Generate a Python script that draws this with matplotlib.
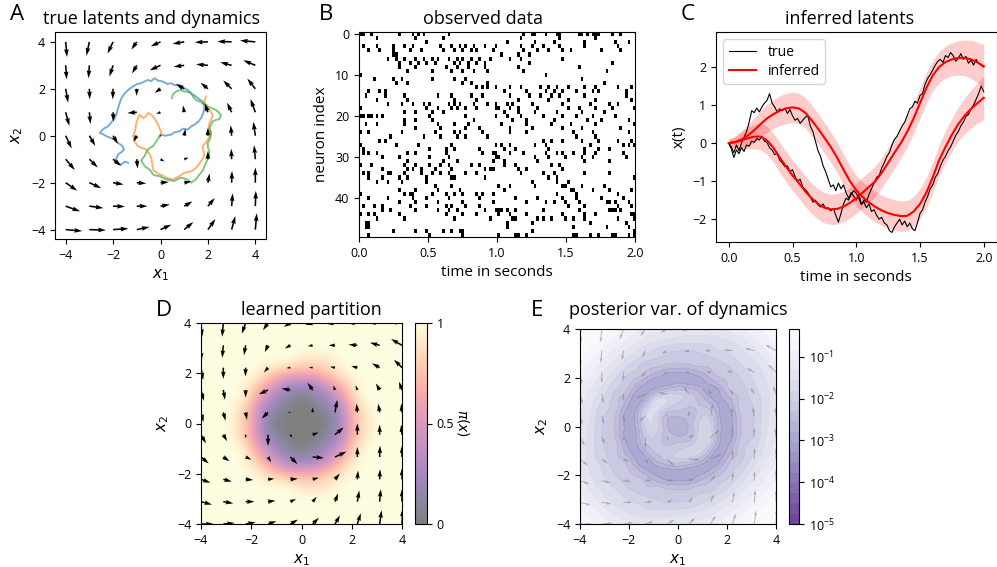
import numpy as np
import matplotlib
matplotlib.use("Agg")
import matplotlib.pyplot as plt
import matplotlib.tri as mtri
from matplotlib.colors import LogNorm
from matplotlib.ticker import LogFormatterMathtext

plt.rcParams['font.family'] = ['Open Sans', 'DejaVu Sans']
plt.rcParams['mathtext.fontset'] = 'dejavusans'
plt.rcParams['xtick.labelsize'] = 9
plt.rcParams['ytick.labelsize'] = 9
plt.rcParams['axes.labelsize'] = 11
plt.rcParams['axes.titlesize'] = 13

# ---------------- data: panel A (true dynamics, 9x9 grid, rows y=4..-4) ----------------
A_grid = [-4, -3, -2, -1, 0, 1, 2, 3, 4]
A_angle_rows = [
    [275, 258, 245, 235, 205, 190, 182, 178, 175],
    [274, 266, 252, 240, 205, 188, 175, 165, 157],
    [280, 272, 268, 268, 215, 150, 140, 135, 128],
    [285, 275, 272, 185, 200, 100, 110, 115, 110],
    [295, 300, 300, 240, 90, 80, 90, 95, 98],
    [310, 315, 320, 275, 330, 20, 90, 92, 95],
    [325, 335, 350, 355, 5, 10, 80, 88, 90],
    [340, 352, 358, 0, 10, 30, 50, 85, 88],
    [355, 358, 4, 12, 25, 40, 55, 75, 85],
]
A_len_rows = [
    [0.65, 0.6, 0.55, 0.4, 0.45, 0.5, 0.55, 0.6, 0.65],
    [0.6, 0.55, 0.5, 0.4, 0.5, 0.45, 0.5, 0.5, 0.55],
    [0.6, 0.45, 0.45, 0.3, 0.3, 0.4, 0.4, 0.5, 0.55],
    [0.6, 0.5, 0.4, 0.4, 0.2, 0.3, 0.4, 0.45, 0.6],
    [0.6, 0.5, 0.4, 0.3, 0.05, 0.3, 0.35, 0.45, 0.6],
    [0.6, 0.5, 0.45, 0.4, 0.2, 0.2, 0.35, 0.45, 0.6],
    [0.6, 0.55, 0.45, 0.4, 0.35, 0.3, 0.4, 0.5, 0.65],
    [0.65, 0.6, 0.5, 0.45, 0.4, 0.4, 0.45, 0.55, 0.65],
    [0.7, 0.7, 0.65, 0.55, 0.5, 0.5, 0.55, 0.6, 0.7],
]
blue_x = [0.03, 0.2, 0.45, 0.6, 0.8, 0.95, 1.15, 1.3, 1.43, 1.6, 1.71, 1.8, 1.85, 1.82, 1.78, 1.65, 1.5, 1.3, 1.15, 0.95,
          0.8, 0.6, 0.45, 0.3, 0.1, -0.1, -0.25, -0.4, -0.53, -0.7, -0.81, -1.0, -1.16, -1.3, -1.44, -1.55, -1.65, -1.72, -1.79, -1.85,
          -1.93, -2.05, -2.21, -2.4, -2.56, -2.4, -2.28, -2.1, -1.93, -1.8, -1.68, -1.6, -1.54, -1.65, -1.79, -1.85, -1.93, -1.8, -1.65, -1.5, -1.37]
blue_y = [0.05, 0.0, 0.05, 0.15, 0.19, 0.3, 0.26, 0.4, 0.47, 0.6, 0.75, 0.95, 1.18, 1.3, 1.46, 1.55, 1.67, 1.8, 1.95, 2.05,
          2.17, 2.15, 2.24, 2.2, 2.31, 2.35, 2.45, 2.32, 2.38, 2.3, 2.24, 2.2, 2.1, 2.0, 1.88, 1.75, 1.6, 1.4, 1.18, 0.95,
          0.75, 0.6, 0.4, 0.3, 0.12, 0.05, -0.02, -0.1, -0.16, -0.3, -0.38, -0.45, -0.59, -0.7, -0.8, -0.95, -1.08, -1.2, -1.22, -1.1, -1.15]
orange_x = [-0.04, 0.03, -0.05, -0.11, -0.18, -0.3, -0.39, -0.53, -0.6, -0.74, -0.88, -0.95, -1.02, -1.05, -1.09, -1.16, -1.05, -0.95, -0.8, -0.67,
            -0.6, -0.53, -0.45, -0.39, -0.35, -0.32, -0.2, -0.04, 0.1, 0.24, 0.4, 0.52, 0.65, 0.8, 0.9, 1.01, 1.15, 1.29, 1.4, 1.5,
            1.6, 1.71, 1.8, 1.85, 1.8, 1.78, 1.9, 1.99, 2.1, 2.13, 2.05, 2.06, 2.15, 2.2, 2.1, 1.99, 1.9, 1.85, 1.88, 1.92]
orange_y = [-0.02, 0.15, 0.33, 0.5, 0.61, 0.8, 0.89, 0.97, 0.85, 0.75, 0.89, 0.75, 0.55, 0.33, 0.15, -0.02, -0.3, -0.45, -0.52, -0.55,
            -0.59, -0.7, -0.8, -0.95, -1.15, -1.44, -1.55, -1.65, -1.7, -1.79, -1.83, -1.86, -1.8, -1.72, -1.65, -1.58, -1.55, -1.51, -1.45, -1.37,
            -1.25, -1.08, -0.95, -0.8, -0.6, -0.45, -0.3, -0.17, 0.0, 0.19, 0.35, 0.54, 0.7, 0.89, 1.05, 1.18, 1.3, 1.46, 1.58, 1.67]
green_x = [-0.04, -0.1, -0.18, -0.25, -0.32, -0.45, -0.53, -0.6, -0.67, -0.75, -0.81, -0.72, -0.67, -0.55, -0.46, -0.38, -0.32, -0.2, -0.04, 0.1,
           0.24, 0.4, 0.59, 0.72, 0.87, 1.0, 1.15, 1.22, 1.29, 1.4, 1.5, 1.6, 1.71, 1.8, 1.85, 1.92, 1.99, 2.05, 2.06, 2.0,
           1.99, 2.08, 2.13, 2.1, 2.06, 2.15, 2.2, 2.35, 2.48, 2.55, 2.45, 2.34, 2.13, 2.0, 1.92, 1.75, 1.64, 1.5, 1.43, 1.35,
           1.29, 1.2, 1.08, 0.95, 0.87, 0.75, 0.66, 0.55, 0.52, 0.48]
green_y = [-0.02, -0.12, -0.24, -0.35, -0.45, -0.52, -0.59, -0.72, -0.87, -0.95, -1.08, -1.2, -1.3, -1.38, -1.44, -1.55, -1.65, -1.7, -1.72, -1.8,
           -1.86, -1.9, -1.93, -1.85, -1.79, -1.82, -1.86, -1.95, -2.0, -1.92, -1.86, -1.7, -1.58, -1.45, -1.3, -1.15, -1.01, -0.85, -0.66, -0.5,
           -0.31, -0.15, 0.05, 0.2, 0.33, 0.5, 0.61, 0.68, 0.7, 0.89, 1.0, 1.1, 1.18, 1.25, 1.32, 1.4, 1.46, 1.52, 1.6, 1.7,
           1.81, 1.85, 1.88, 1.9, 1.95, 1.92, 1.88, 1.8, 1.74, 1.6]

# ---------------- data: panel B (spike bins, 100 bins of 20 ms) ----------------
n_bins = 100
spike_bins = [
    [0, 1, 4, 14, 19, 21, 23, 32, 59, 62, 63, 67, 71, 72, 79, 80, 82, 84, 85, 86, 91, 94],
    [6, 20, 30, 58, 72, 85],
    [24, 53, 63, 70, 81, 92, 97],
    [1, 6, 12, 16, 19, 29, 33, 36, 38, 41, 45, 49, 58, 62, 66, 72, 81, 93],
    [3, 7, 12, 18, 22, 30, 34, 37, 40, 42, 48, 59, 64, 68, 73, 76, 87, 94],
    [12, 13, 51, 57, 61],
    [10, 13, 16, 20, 23, 26, 28, 32, 35, 37, 40, 43, 47, 54, 58, 73],
    [14, 18, 21, 24, 27, 34, 36, 39, 42, 45, 61, 91],
    [14, 20, 31, 35, 39, 45, 57, 79],
    [17, 26, 33, 37, 41, 46, 59, 89],
    [0, 67],
    [5, 12, 15, 26, 34, 38, 80],
    [13, 17, 37, 40, 46, 88],
    [42, 44, 46, 49, 54, 58, 65, 68, 71, 75, 81, 85, 93, 98],
    [3, 7, 9, 52, 60, 67, 70, 73, 78, 84, 86, 96],
    [2, 9, 16, 28, 33, 40, 44, 54, 61, 65, 69, 72, 81, 96],
    [6, 17, 34, 42, 57, 68, 75, 85, 98],
    [10, 15, 19, 23, 25, 32, 34, 36, 41, 46, 49, 53, 55, 62, 73, 83, 90, 93],
    [0, 24, 28, 33, 35, 38, 42, 49, 50, 54, 57, 64, 75, 79, 85, 91, 99],
    [16, 20, 26, 30, 52, 57, 63, 71, 80, 88],
    [0, 1, 3, 4, 6, 8, 25, 38, 49, 53, 58, 66, 73, 78, 84, 92],
    [16, 20, 26, 41, 55, 60, 70, 82, 87, 97],
    [2, 6, 16, 28, 34, 39, 51, 60, 69, 76, 85, 99],
    [20, 29, 38, 43, 54, 62, 73, 80, 94],
    [0, 3, 15, 27, 34, 36, 44, 54, 60, 77, 84, 97],
    [11, 23, 29, 35, 38, 46, 78, 85],
    [7, 9, 66, 69, 73, 80, 86, 93, 98],
    [0, 13, 21, 33, 49, 51, 54, 63, 67, 83, 95, 97, 99],
    [1, 25, 31, 34, 43, 52, 56, 68, 81, 86, 90],
    [1, 3, 6, 17, 20, 31, 44, 48, 49, 54, 59, 67, 71, 73, 77, 81, 85, 95],
    [8, 14, 25, 32, 49, 50, 63, 68, 74, 80, 84, 96],
    [17, 30, 35, 48, 52, 64, 81, 90],
    [0, 4, 16, 20, 25, 29, 32, 40, 43, 52, 56, 69, 72],
    [8, 17, 19, 22, 27, 33, 45, 47, 48, 57, 60, 73],
    [1, 3, 10, 11, 16, 22, 26, 29, 32, 38, 42, 58, 66, 70, 81, 90],
    [3, 8, 14, 17, 24, 33, 34, 45, 68, 71, 99],
    [6, 10, 15, 24, 62, 71, 75],
    [27, 33, 50, 54, 63, 73, 74, 80, 88],
    [14, 20, 28, 36, 52, 76, 77, 84, 90, 98],
    [0, 16, 18, 19, 26, 31, 34, 37, 42, 44, 48, 71, 78, 93],
    [3, 10, 19, 24, 32, 43, 56, 64, 73, 78, 87, 95],
    [14, 20, 28, 37, 48, 60, 67, 70, 74, 79, 89, 90, 92, 97],
    [1, 5, 8, 18, 24, 31, 33, 38, 43, 75, 81, 93, 98],
    [8, 11, 20, 28, 32, 35, 45, 49, 50, 51, 53, 56, 66, 79, 90, 91, 92, 94],
    [0, 3, 5, 14, 31, 37, 42, 50, 54, 60, 73, 81, 85, 98, 99],
    [6, 16, 34, 47, 55, 56, 64, 66, 69, 74, 77, 81, 93, 99],
    [2, 3, 53, 62, 83, 96],
    [2, 3, 53, 77, 89, 97],
    [12, 20, 24, 30, 33, 36, 37, 62, 99],
    [3, 25, 37, 50, 56, 57, 60, 77, 78, 83, 86, 91, 92, 97, 99],
]

# ---------------- data: panel C ----------------
t_true = np.arange(101) * 0.02
x1_true = [0.00, -0.15, -0.38, -0.18, -0.28, -0.12, -0.22, -0.05, -0.08, 0.05,
           0.02, 0.12, 0.08, 0.18, 0.05, 0.02, -0.12, -0.18, -0.3, -0.28,
           -0.45, -0.52, -0.62, -0.6, -0.75, -0.7, -0.88, -1.0, -0.95, -1.15,
           -1.22, -1.3, -1.42, -1.55, -1.5, -1.62, -1.68, -1.6, -1.72, -1.7,
           -1.78, -1.72, -1.9, -2.08, -1.85, -1.6, -1.45, -1.5, -1.35, -1.25,
           -1.32, -1.45, -1.62, -1.5, -1.55, -1.35, -1.2, -1.05, -0.9, -0.85,
           -0.65, -0.52, -0.35, -0.25, -0.05, 0.1, 0.18, 0.32, 0.45, 0.55,
           0.72, 0.9, 0.95, 1.1, 1.05, 1.25, 1.3, 1.55, 1.7, 1.8,
           1.92, 2.05, 2.15, 2.2, 2.12, 2.3, 2.25, 2.38, 2.3, 2.15,
           2.22, 2.35, 2.2, 2.28, 2.1, 2.18, 2.05, 2.2, 2.1, 2.05,
           2.0]
x2_true = [0.0, -0.1, -0.25, -0.05, -0.2, 0.0, 0.15, 0.3, 0.55, 0.85,
           0.8, 0.92, 0.82, 0.95, 1.05, 1.12, 1.3, 1.05, 0.95, 0.82,
           0.9, 0.85, 0.92, 0.78, 0.88, 0.72, 0.6, 0.65, 0.52, 0.6,
           0.68, 0.72, 0.45, 0.3, 0.05, -0.2, -0.35, -0.6, -0.75, -0.95,
           -1.15, -1.1, -1.25, -1.05, -1.2, -1.1, -1.3, -1.45, -1.3, -1.4,
           -1.5, -1.35, -1.6, -1.55, -1.7, -1.6, -1.8, -1.75, -1.9, -2.0,
           -1.95, -2.1, -2.15, -2.3, -2.35, -2.2, -2.1, -2.0, -2.15, -2.05,
           -2.2, -2.1, -2.25, -2.3, -2.1, -1.85, -1.75, -1.55, -1.4, -1.2,
           -1.1, -0.9, -0.8, -0.6, -0.45, -0.35, -0.2, -0.1, 0.05, 0.2,
           0.3, 0.45, 0.55, 0.7, 0.75, 0.9, 1.0, 1.15, 1.3, 1.5,
           1.35]
t_inf = np.arange(41) * 0.05
x1_inf = [0.0, 0.02, 0.07, 0.13, 0.17, 0.17, 0.07, -0.12, -0.38, -0.62,
          -0.85, -1.05, -1.27, -1.45, -1.6, -1.7, -1.74, -1.73, -1.67, -1.57,
          -1.45, -1.3, -1.15, -1.0, -0.78, -0.52, -0.25, 0.0, 0.3, 0.65,
          1.05, 1.45, 1.78, 2.0, 2.13, 2.2, 2.24, 2.24, 2.2, 2.12, 2.02]
x2_inf = [0.0, 0.03, 0.1, 0.2, 0.34, 0.5, 0.65, 0.76, 0.85, 0.91,
          0.94, 0.91, 0.8, 0.6, 0.38, 0.14, -0.1, -0.38, -0.7, -1.0,
          -1.24, -1.42, -1.56, -1.68, -1.77, -1.84, -1.89, -1.92, -1.91, -1.8,
          -1.6, -1.3, -0.9, -0.45, -0.1, 0.22, 0.5, 0.72, 0.9, 1.05, 1.19]
inf_std = [0.1, 0.15, 0.22, 0.28, 0.32, 0.35, 0.37, 0.38, 0.39, 0.4,
           0.4, 0.4, 0.4, 0.4, 0.4, 0.4, 0.4, 0.4, 0.4, 0.4,
           0.4, 0.4, 0.4, 0.4, 0.4, 0.4, 0.4, 0.4, 0.4, 0.4,
           0.4, 0.4, 0.4, 0.41, 0.42, 0.43, 0.45, 0.47, 0.5, 0.53, 0.57]

# ---------------- data: panel D (partition, 17x17 grid, digit/9, rows y=4..-4) ----------------
pi_rows = [
    "99999999999999999",
    "99999999999999999",
    "99999999999999999",
    "99999999888999999",
    "99999876667899999",
    "99998642224689999",
    "99997421012479999",
    "99986210001268999",
    "99986200000268999",
    "99986210001268999",
    "99997421012479999",
    "99998642224689999",
    "99999876667899999",
    "99999999888999999",
    "99999999999999999",
    "99999999999999999",
    "99999999999999999",
]
# learned dynamics on 10x10 grid (rows y=4..-4)
D_angle_rows = [
    [275, 265, 250, 235, 210, 195, 185, 180, 178, 175],
    [272, 265, 260, 245, 210, 190, 180, 175, 165, 150],
    [280, 270, 268, 230, 185, 175, 170, 165, 150, 135],
    [285, 280, 270, 205, 170, 125, 110, 110, 120, 110],
    [285, 285, 280, 225, 180, 90, 80, 95, 100, 95],
    [300, 300, 270, 270, 300, 20, 40, 90, 90, 95],
    [320, 325, 335, 300, 315, 355, 25, 90, 88, 90],
    [340, 345, 355, 5, 5, 15, 50, 85, 88, 90],
    [345, 350, 0, 8, 25, 50, 70, 80, 85, 90],
    [0, 5, 10, 18, 30, 45, 60, 72, 82, 88],
]
D_len_rows = [
    [0.55, 0.55, 0.45, 0.35, 0.3, 0.3, 0.35, 0.4, 0.45, 0.5],
    [0.6, 0.5, 0.4, 0.3, 0.25, 0.2, 0.25, 0.35, 0.4, 0.5],
    [0.5, 0.45, 0.35, 0.25, 0.15, 0.15, 0.2, 0.25, 0.35, 0.45],
    [0.45, 0.4, 0.3, 0.4, 0.35, 0.35, 0.2, 0.2, 0.3, 0.35],
    [0.4, 0.35, 0.3, 0.35, 0.1, 0.2, 0.5, 0.35, 0.35, 0.35],
    [0.4, 0.3, 0.15, 0.45, 0.15, 0.25, 0.45, 0.45, 0.4, 0.4],
    [0.4, 0.3, 0.25, 0.25, 0.4, 0.45, 0.5, 0.4, 0.45, 0.45],
    [0.4, 0.35, 0.3, 0.25, 0.3, 0.25, 0.3, 0.35, 0.4, 0.45],
    [0.45, 0.4, 0.35, 0.3, 0.25, 0.25, 0.35, 0.45, 0.5, 0.5],
    [0.5, 0.45, 0.4, 0.35, 0.35, 0.35, 0.4, 0.45, 0.55, 0.6],
]

# ---------------- data: panel E (log10 posterior variance, 17x17, rows y=4..-4) ----------------
E_log10_rows = [
    [-0.15, -0.28, -0.46, -0.68, -0.87, -1.07, -1.2, -1.32, -1.4, -1.44, -1.44, -1.4, -1.27, -1.13, -0.94, -0.78, -0.65],
    [-0.28, -0.48, -0.72, -0.96, -1.17, -1.36, -1.53, -1.63, -1.7, -1.73, -1.73, -1.68, -1.6, -1.44, -1.22, -0.98, -0.78],
    [-0.46, -0.72, -1.0, -1.22, -1.48, -1.71, -1.91, -2.05, -2.1, -2.11, -2.05, -1.93, -1.82, -1.68, -1.5, -1.22, -0.94],
    [-0.68, -0.96, -1.22, -1.51, -1.83, -2.09, -2.23, -2.35, -2.4, -2.35, -2.27, -2.21, -2.07, -1.85, -1.68, -1.44, -1.13],
    [-0.87, -1.17, -1.48, -1.83, -2.15, -2.4, -2.75, -2.95, -2.95, -2.95, -2.75, -2.4, -2.26, -2.07, -1.82, -1.6, -1.27],
    [-1.07, -1.36, -1.71, -2.09, -2.4, -2.9, -2.75, -2.45, -2.3, -2.45, -2.75, -2.9, -2.4, -2.21, -1.93, -1.68, -1.4],
    [-1.2, -1.53, -1.91, -2.23, -2.75, -2.75, -1.8, -1.75, -2.05, -2.2, -2.4, -2.75, -2.75, -2.27, -2.05, -1.73, -1.44],
    [-1.32, -1.63, -2.05, -2.35, -2.95, -2.2, -1.75, -2.35, -2.45, -2.45, -2.1, -2.45, -2.95, -2.35, -2.11, -1.73, -1.44],
    [-1.4, -1.7, -2.1, -2.4, -2.95, -2.3, -1.85, -2.45, -2.75, -2.45, -1.9, -2.3, -2.95, -2.4, -2.1, -1.7, -1.4],
    [-1.44, -1.73, -2.11, -2.35, -2.95, -2.45, -2.1, -2.4, -2.45, -2.35, -1.85, -2.3, -2.95, -2.35, -2.05, -1.63, -1.32],
    [-1.44, -1.73, -2.05, -2.27, -2.75, -2.75, -2.3, -2.2, -2.05, -1.9, -2.0, -2.75, -2.75, -2.23, -1.91, -1.53, -1.2],
    [-1.4, -1.68, -1.93, -2.21, -2.4, -2.9, -2.75, -2.45, -2.3, -2.45, -2.75, -2.9, -2.4, -2.09, -1.71, -1.36, -1.07],
    [-1.27, -1.6, -1.82, -2.07, -2.26, -2.4, -2.75, -2.95, -2.95, -2.95, -2.75, -2.4, -2.15, -1.83, -1.48, -1.17, -0.87],
    [-1.13, -1.44, -1.68, -1.85, -2.07, -2.21, -2.27, -2.35, -2.4, -2.35, -2.23, -2.09, -1.83, -1.51, -1.22, -0.96, -0.68],
    [-0.94, -1.22, -1.5, -1.68, -1.82, -1.93, -2.05, -2.11, -2.1, -2.05, -1.91, -1.71, -1.48, -1.22, -1.0, -0.72, -0.46],
    [-0.78, -0.98, -1.22, -1.44, -1.6, -1.68, -1.73, -1.73, -1.7, -1.63, -1.53, -1.36, -1.17, -0.96, -0.72, -0.48, -0.28],
    [-0.65, -0.78, -0.94, -1.13, -1.27, -1.4, -1.44, -1.44, -1.4, -1.32, -1.2, -1.07, -0.87, -0.68, -0.46, -0.28, -0.15],
]
E_ticks = [1e-5, 1e-4, 1e-3, 1e-2, 1e-1]

# ---------------- layout ----------------
W, H = 997, 567
fig = plt.figure(figsize=(W / 100, H / 100), dpi=100)


def rect(l, t, r, b):
    return [l / W, 1 - b / H, (r - l) / W, (b - t) / H]


axA = fig.add_axes(rect(55, 32, 266, 239))
axB = fig.add_axes(rect(359, 32, 635, 237))
axC = fig.add_axes(rect(716, 32, 996.5, 242))
axD = fig.add_axes(rect(201, 323, 402, 524))
caxD = fig.add_axes(rect(415, 323, 427, 524))
axE = fig.add_axes(rect(580, 329, 776, 524))
caxE = fig.add_axes(rect(789, 329, 799, 524))

ticks4 = [-4, -2, 0, 2, 4]

# ---------------- panel A ----------------
axA.plot(blue_x, blue_y, color='tab:blue', alpha=0.6, lw=1.4, zorder=2)
axA.plot(orange_x, orange_y, color='tab:orange', alpha=0.6, lw=1.4, zorder=2)
axA.plot(green_x, green_y, color='tab:green', alpha=0.6, lw=1.4, zorder=2)
XA, YA = np.meshgrid(A_grid, A_grid[::-1])
angA = np.deg2rad(np.array(A_angle_rows, dtype=float))
LA = np.array(A_len_rows)
axA.quiver(XA, YA, LA * np.cos(angA), LA * np.sin(angA), angles='xy', scale_units='xy',
           scale=1, width=0.0075, color='k', zorder=3)
axA.set_xlim(-4.45, 4.45)
axA.set_ylim(-4.4, 4.42)
axA.set_xticks(ticks4)
axA.set_yticks(ticks4)
axA.set_xlabel(r'$x_1$')
axA.set_ylabel(r'$x_2$')
axA.set_title('true latents and dynamics', x=0.455)

# ---------------- panel B ----------------
raster = np.zeros((len(spike_bins), n_bins))
for n, bins in enumerate(spike_bins):
    raster[n, bins] = 1
axB.imshow(raster, aspect='auto', cmap='gray_r', interpolation='nearest',
           extent=[0, 2, len(spike_bins) - 0.5, -0.5], vmin=0, vmax=1)
axB.set_yticks([0, 10, 20, 30, 40])
axB.set_xticks([0.0, 0.5, 1.0, 1.5, 2.0])
axB.set_xticklabels(['0.0', '0.5', '1.0', '1.5', '2.0'])
axB.set_xlabel('time in seconds')
axB.set_ylabel('neuron index')
axB.set_title('observed data', x=0.45)

# ---------------- panel C ----------------
x1i = np.array(x1_inf)
x2i = np.array(x2_inf)
sd = np.array(inf_std)
axC.fill_between(t_inf, x1i - sd, x1i + sd, color='red', alpha=0.2, lw=0)
axC.fill_between(t_inf, x2i - sd, x2i + sd, color='red', alpha=0.2, lw=0)
axC.plot(t_true, x1_true, color='k', lw=0.8, label='true')
axC.plot(t_true, x2_true, color='k', lw=0.8)
axC.plot(t_inf, x1i, color='red', lw=1.5, label='inferred')
axC.plot(t_inf, x2i, color='red', lw=1.5)
axC.set_xlim(-0.1, 2.1)
axC.set_ylim(-2.6, 2.92)
axC.set_xticks([0.0, 0.5, 1.0, 1.5, 2.0])
axC.set_xticklabels(['0.0', '0.5', '1.0', '1.5', '2.0'])
axC.set_yticks([-2, -1, 0, 1, 2])
axC.set_xlabel('time in seconds')
axC.set_ylabel('x(t)')
axC.set_title('inferred latents', x=0.477)
axC.legend(loc='upper left', fontsize=10, handlelength=2.0, borderpad=0.4, labelspacing=0.3)

# ---------------- panel D ----------------
pi = np.array([[int(c) / 9 for c in row] for row in pi_rows])
imD = axD.imshow(pi, extent=[-4.25, 4.25, -4.25, 4.25], origin='upper', cmap='magma',
                 alpha=0.5, vmin=0, vmax=1, interpolation='bicubic')
gD = np.linspace(-4, 4, 10)
XD, YD = np.meshgrid(gD, gD[::-1])
angD = np.deg2rad(np.array(D_angle_rows, dtype=float))
LD = np.array(D_len_rows)
UD, VD = LD * np.cos(angD), LD * np.sin(angD)
axD.quiver(XD, YD, UD, VD, angles='xy', scale_units='xy', scale=1, width=0.0075, color='k')
axD.set_xlim(-4, 4)
axD.set_ylim(-4, 4)
axD.set_xticks(ticks4)
axD.set_yticks(ticks4)
axD.set_xlabel(r'$x_1$')
axD.set_ylabel(r'$x_2$')
axD.set_title('learned partition', x=0.547)
cbD = fig.colorbar(imD, cax=caxD, ticks=[0, 0.5, 1])
cbD.ax.set_yticklabels(['0', '0.5', '1'])
cbD.set_label(r'$\pi(x)$', rotation=270, labelpad=12, fontsize=10)

# ---------------- panel E ----------------
gE = np.arange(-8, 9) * 0.5
XE, YE = np.meshgrid(gE, gE[::-1])
LzE = np.array(E_log10_rows)
triE = mtri.Triangulation(XE.ravel(), YE.ravel())
tri_f, z_f = mtri.UniformTriRefiner(triE).refine_field(LzE.ravel(), subdiv=3)
levels = np.logspace(-5, np.log10(0.46), 20)
csE = axE.tricontourf(tri_f, 10 ** np.clip(z_f, -4.99, -0.35), levels=levels,
                      norm=LogNorm(vmin=1e-5, vmax=0.46), cmap='Purples_r', alpha=0.75)
axE.quiver(XD, YD, UD, VD, angles='xy', scale_units='xy', scale=1, width=0.005,
           color='gray', alpha=0.55)
axE.set_xlim(-4, 4)
axE.set_ylim(-4, 4)
axE.set_xticks(ticks4)
axE.set_yticks(ticks4)
axE.set_xlabel(r'$x_1$')
axE.set_ylabel(r'$x_2$')
axE.set_title('posterior var. of dynamics', pad=10)
cbE = fig.colorbar(csE, cax=caxE, ticks=E_ticks, format=LogFormatterMathtext())
cbE.ax.minorticks_off()

# ---------------- panel letters ----------------
for letter, (px, py) in {'A': (17, 15), 'B': (326, 14), 'C': (688, 14),
                         'D': (164, 310), 'E': (537, 311)}.items():
    fig.text(px / W, 1 - py / H, letter, ha='center', va='center', fontsize=16)

fig.savefig('out.png', dpi=100)
